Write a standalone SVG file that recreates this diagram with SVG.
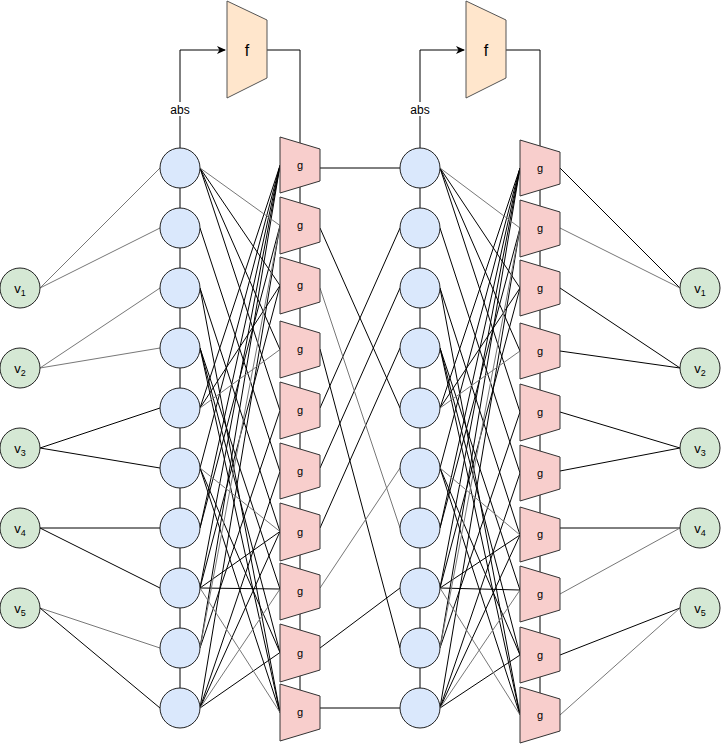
<svg xmlns="http://www.w3.org/2000/svg" width="721" height="744" viewBox="0 0 721 744">
<defs>
<marker id="arr" markerWidth="10" markerHeight="10" refX="8" refY="5" orient="auto" markerUnits="userSpaceOnUse"><path d="M0,1 L9,5 L0,9 L2.5,5 Z" fill="#000"/></marker>
<style>
.blue{fill:#dae8fc;stroke:#222;stroke-width:1}
.green{fill:#d5e8d4;stroke:#222;stroke-width:1}
.g{fill:#f8cecc;stroke:#333;stroke-width:1}
.f{fill:#ffe6cc;stroke:#555;stroke-width:1}
.k{stroke:#000;stroke-width:1;fill:none}
.gr{stroke:#777;stroke-width:1;fill:none}
.t{font-family:"Liberation Sans",Arial,sans-serif;fill:#000;text-anchor:middle}
</style>
</defs>
<rect width="721" height="744" fill="#fff"/>
<g id="connectors">
<path class="k" d="M180,148 V50 H225" marker-end="url(#arr)"/>
<path class="k" d="M267,50 H300 V143"/>
<path class="k" d="M180,148 V708"/>
<path class="k" d="M300,143 V712"/>
<path class="k" d="M420,148 V50 H464" marker-end="url(#arr)"/>
<path class="k" d="M506,50 H540 V146"/>
<path class="k" d="M420,148 V708"/>
<path class="k" d="M540,146 V715"/>
<!-- v to left circles -->
<path class="gr" d="M40,288 L160,168 M40,288 L160,228 M40,368 L160,288 M40,368 L160,348 M40,608 L160,648"/>
<path class="k" d="M40,448 L160,408 M40,448 L160,468 M40,528 L160,528 M40,528 L160,588 M40,608 L160,708"/>
<!-- left circles to left g -->
<path class="k" d="M200,168 L280,285.5 M200,168 L280,349.5 M200,168 L280,410.5 M200,228 L280,471.5 M200,288 L280,531.5 M200,288 L280,712.5 M200,348 L280,589 M200,348 L280,652.5 M200,348 L280,712.5 M200,408 L280,285.5 M200,408 L280,165.5 M200,468 L280,652.5 M200,468 L280,712.5 M200,468 L280,165.5 M200,528 L280,165.5 M200,528 L280,225.5 M200,588 L280,531.5 M200,588 L280,589 M200,588 L280,165.5 M200,588 L280,285.5 M200,648 L280,165.5 M200,648 L280,410.5 M200,708 L280,531.5 M200,708 L280,652.5 M200,708 L280,225.5 M200,708 L280,471.5"/>
<path class="gr" d="M200,168 L280,225.5 M200,408 L280,349.5 M200,468 L280,531.5 M200,588 L280,712.5 M200,648 L280,225.5 M200,708 L280,589"/>
<!-- middle g to circles -->
<path class="k" d="M320,168 H400 M320,228 L400,408 M320,349 L400,648 M320,408 L400,228 M320,468 L400,288 M320,528 L400,348 M320,648 L400,588 M320,708 H400"/>
<path class="gr" d="M320,288 L400,528 M320,588 L400,468"/>
<!-- right circles to right g -->
<path class="k" d="M440,168 L520,288 M440,168 L520,351 M440,168 L520,412 M440,228 L520,473 M440,288 L520,535 M440,288 L520,715 M440,348 L520,590 M440,348 L520,655 M440,348 L520,715 M440,408 L520,288 M440,408 L520,168 M440,468 L520,655 M440,468 L520,715 M440,468 L520,168 M440,528 L520,168 M440,528 L520,228 M440,588 L520,535 M440,588 L520,590 M440,588 L520,168 M440,588 L520,288 M440,648 L520,168 M440,648 L520,412 M440,708 L520,535 M440,708 L520,655 M440,708 L520,228 M440,708 L520,473"/>
<path class="gr" d="M440,168 L520,228 M440,408 L520,351 M440,468 L520,535 M440,588 L520,715 M440,648 L520,228 M440,708 L520,590"/>
<!-- right g to v -->
<path class="k" d="M560,168 L680,288 M560,288 L680,368 M560,351 L680,368 M560,412 L680,448 M560,471 L680,448 M560,528 H680 M560,655 L680,608"/>
<path class="gr" d="M560,228 L680,288 M560,594 L680,528 M560,715 L680,608"/>
</g>
<g id="f1"><polygon class="f" points="227,1 267,20 267,78 227,98"/><text class="t" x="247" y="56" font-size="16">f</text></g>
<g id="f2"><polygon class="f" points="466,1 506,20 506,78 466,98"/><text class="t" x="486" y="56" font-size="16">f</text></g>
<g id="abs1"><rect x="167" y="102" width="26" height="14" fill="#fff"/><text class="t" x="180" y="114" font-size="12">abs</text></g>
<g id="abs2"><rect x="407" y="102" width="26" height="14" fill="#fff"/><text class="t" x="420" y="114" font-size="12">abs</text></g>
<g id="lv1"><circle class="green" cx="20" cy="288" r="20"/><text class="t" x="20" y="293" font-size="13">v<tspan font-size="9" dy="3">1</tspan></text></g>
<g id="lv2"><circle class="green" cx="20" cy="368" r="20"/><text class="t" x="20" y="373" font-size="13">v<tspan font-size="9" dy="3">2</tspan></text></g>
<g id="lv3"><circle class="green" cx="20" cy="448" r="20"/><text class="t" x="20" y="453" font-size="13">v<tspan font-size="9" dy="3">3</tspan></text></g>
<g id="lv4"><circle class="green" cx="20" cy="528" r="20"/><text class="t" x="20" y="533" font-size="13">v<tspan font-size="9" dy="3">4</tspan></text></g>
<g id="lv5"><circle class="green" cx="20" cy="608" r="20"/><text class="t" x="20" y="613" font-size="13">v<tspan font-size="9" dy="3">5</tspan></text></g>
<g id="rv1"><circle class="green" cx="700" cy="288" r="20"/><text class="t" x="700" y="293" font-size="13">v<tspan font-size="9" dy="3">1</tspan></text></g>
<g id="rv2"><circle class="green" cx="700" cy="368" r="20"/><text class="t" x="700" y="373" font-size="13">v<tspan font-size="9" dy="3">2</tspan></text></g>
<g id="rv3"><circle class="green" cx="700" cy="448" r="20"/><text class="t" x="700" y="453" font-size="13">v<tspan font-size="9" dy="3">3</tspan></text></g>
<g id="rv4"><circle class="green" cx="700" cy="528" r="20"/><text class="t" x="700" y="533" font-size="13">v<tspan font-size="9" dy="3">4</tspan></text></g>
<g id="rv5"><circle class="green" cx="700" cy="608" r="20"/><text class="t" x="700" y="613" font-size="13">v<tspan font-size="9" dy="3">5</tspan></text></g>
<g id="lc1"><circle class="blue" cx="180" cy="168" r="20"/></g>
<g id="lc2"><circle class="blue" cx="180" cy="228" r="20"/></g>
<g id="lc3"><circle class="blue" cx="180" cy="288" r="20"/></g>
<g id="lc4"><circle class="blue" cx="180" cy="348" r="20"/></g>
<g id="lc5"><circle class="blue" cx="180" cy="408" r="20"/></g>
<g id="lc6"><circle class="blue" cx="180" cy="468" r="20"/></g>
<g id="lc7"><circle class="blue" cx="180" cy="528" r="20"/></g>
<g id="lc8"><circle class="blue" cx="180" cy="588" r="20"/></g>
<g id="lc9"><circle class="blue" cx="180" cy="648" r="20"/></g>
<g id="lc10"><circle class="blue" cx="180" cy="708" r="20"/></g>
<g id="rc1"><circle class="blue" cx="420" cy="168" r="20"/></g>
<g id="rc2"><circle class="blue" cx="420" cy="228" r="20"/></g>
<g id="rc3"><circle class="blue" cx="420" cy="288" r="20"/></g>
<g id="rc4"><circle class="blue" cx="420" cy="348" r="20"/></g>
<g id="rc5"><circle class="blue" cx="420" cy="408" r="20"/></g>
<g id="rc6"><circle class="blue" cx="420" cy="468" r="20"/></g>
<g id="rc7"><circle class="blue" cx="420" cy="528" r="20"/></g>
<g id="rc8"><circle class="blue" cx="420" cy="588" r="20"/></g>
<g id="rc9"><circle class="blue" cx="420" cy="648" r="20"/></g>
<g id="rc10"><circle class="blue" cx="420" cy="708" r="20"/></g>
<g id="lg1"><polygon class="g" points="280,137 320,149 320,181 280,193"/><text class="t" x="300" y="169" font-size="11">g</text></g>
<g id="lg2"><polygon class="g" points="280,197 320,209 320,242 280,254"/><text class="t" x="300" y="229" font-size="11">g</text></g>
<g id="lg3"><polygon class="g" points="280,257 320,269 320,302 280,314"/><text class="t" x="300" y="289" font-size="11">g</text></g>
<g id="lg4"><polygon class="g" points="280,321 320,333 320,366 280,378"/><text class="t" x="300" y="353" font-size="11">g</text></g>
<g id="lg5"><polygon class="g" points="280,382 320,394 320,427 280,439"/><text class="t" x="300" y="414" font-size="11">g</text></g>
<g id="lg6"><polygon class="g" points="280,443 320,455 320,487 280,499"/><text class="t" x="300" y="475" font-size="11">g</text></g>
<g id="lg7"><polygon class="g" points="280,503 320,515 320,549 280,561"/><text class="t" x="300" y="536" font-size="11">g</text></g>
<g id="lg8"><polygon class="g" points="280,563 320,575 320,608 280,620"/><text class="t" x="300" y="595" font-size="11">g</text></g>
<g id="lg9"><polygon class="g" points="280,624 320,636 320,670 280,682"/><text class="t" x="300" y="657" font-size="11">g</text></g>
<g id="lg10"><polygon class="g" points="280,684 320,696 320,729 280,741"/><text class="t" x="300" y="716" font-size="11">g</text></g>
<g id="rg1"><polygon class="g" points="520,140 560,152 560,184 520,196"/><text class="t" x="540" y="172" font-size="11">g</text></g>
<g id="rg2"><polygon class="g" points="520,200 560,212 560,245 520,257"/><text class="t" x="540" y="232" font-size="11">g</text></g>
<g id="rg3"><polygon class="g" points="520,260 560,272 560,304 520,316"/><text class="t" x="540" y="292" font-size="11">g</text></g>
<g id="rg4"><polygon class="g" points="520,323 560,335 560,367 520,379"/><text class="t" x="540" y="355" font-size="11">g</text></g>
<g id="rg5"><polygon class="g" points="520,384 560,396 560,429 520,441"/><text class="t" x="540" y="416" font-size="11">g</text></g>
<g id="rg6"><polygon class="g" points="520,445 560,457 560,489 520,501"/><text class="t" x="540" y="477" font-size="11">g</text></g>
<g id="rg7"><polygon class="g" points="520,507 560,519 560,550 520,562"/><text class="t" x="540" y="538" font-size="11">g</text></g>
<g id="rg8"><polygon class="g" points="520,566 560,578 560,610 520,622"/><text class="t" x="540" y="598" font-size="11">g</text></g>
<g id="rg9"><polygon class="g" points="520,627 560,639 560,671 520,683"/><text class="t" x="540" y="659" font-size="11">g</text></g>
<g id="rg10"><polygon class="g" points="520,687 560,699 560,731 520,743"/><text class="t" x="540" y="719" font-size="11">g</text></g>
</svg>
